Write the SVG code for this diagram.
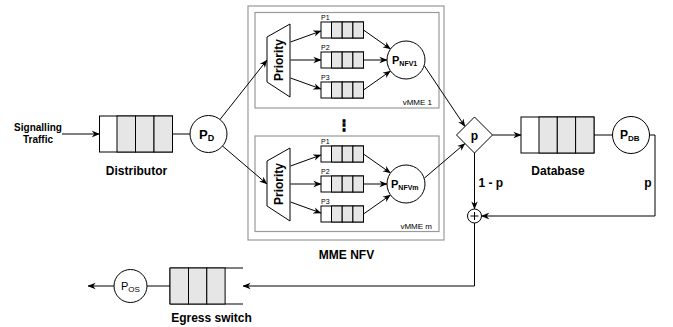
<svg xmlns="http://www.w3.org/2000/svg" width="673" height="327" viewBox="0 0 673 327">
<defs>
<marker id="arr" viewBox="0 0 10 10" refX="9.5" refY="5" markerWidth="8" markerHeight="8" orient="auto" markerUnits="userSpaceOnUse">
<path d="M0,1 L10,5 L0,9 L3,5 z" fill="#000"/>
</marker>
<style>
text{font-family:"Liberation Sans",Arial,sans-serif;fill:#000}
.b{font-weight:bold}
.lbl{font-size:12px;font-weight:bold;text-anchor:middle}
.ln{fill:none;stroke:#000;stroke-width:1}
.ar{fill:none;stroke:#000;stroke-width:1;marker-end:url(#arr)}
.q{fill:#fff;stroke:#000;stroke-width:1}
.g{fill:#e6e6e6;stroke:#000;stroke-width:1}
.c{fill:#fff;stroke:#000;stroke-width:1}
.box{fill:#fff;stroke:#999;stroke-width:1.2}
.small{font-size:7px}
</style>
</defs>
<rect width="673" height="327" fill="#fff"/>

<!-- MME NFV container -->
<g id="mme-nfv">
<rect class="box" x="248" y="6" width="196" height="234" fill="none"/>
<text class="lbl" x="346.5" y="259">MME NFV</text>
<text class="b" x="343.5" y="129" font-size="12" text-anchor="middle" stroke="#000" stroke-width="1.2">⋮</text>
</g>

<g id="vmme1">
<rect class="box" x="255" y="12.5" width="184" height="95.5"/>
<text x="432" y="105" font-size="8" text-anchor="end">vMME 1</text>
</g>
<g id="vmmem">
<rect class="box" x="255" y="136" width="184" height="95.5"/>
<text x="432" y="229" font-size="8" text-anchor="end">vMME m</text>
</g>

<!-- Connectors -->
<g id="connectors">
<line class="ar" x1="62" y1="134" x2="99.5" y2="134"/>
<line class="ln" x1="172.5" y1="134" x2="190" y2="134"/>
<line class="ar" x1="220" y1="119.5" x2="267" y2="60"/>
<line class="ar" x1="222.5" y1="146" x2="267" y2="184"/>
<!-- vMME1 internal -->
<line class="ar" x1="290.5" y1="42" x2="321" y2="31"/>
<line class="ar" x1="290.5" y1="60" x2="321" y2="60"/>
<line class="ar" x1="290.5" y1="78" x2="321" y2="89"/>
<line class="ar" x1="363.5" y1="30" x2="390.5" y2="49"/>
<line class="ar" x1="363.5" y1="60" x2="387" y2="60"/>
<line class="ar" x1="363.5" y1="90" x2="390.5" y2="71"/>
<!-- vMMEm internal -->
<line class="ar" x1="290.5" y1="166" x2="321" y2="155"/>
<line class="ar" x1="290.5" y1="184" x2="321" y2="184"/>
<line class="ar" x1="290.5" y1="202" x2="321" y2="213"/>
<line class="ar" x1="363.5" y1="154" x2="390.5" y2="173"/>
<line class="ar" x1="363.5" y1="184" x2="387" y2="184"/>
<line class="ar" x1="363.5" y1="214" x2="390.5" y2="195"/>
<!-- to diamond -->
<line class="ar" x1="424.5" y1="66" x2="465" y2="126.5"/>
<line class="ar" x1="424.5" y1="178" x2="465" y2="143.5"/>
<line class="ar" x1="492.5" y1="135" x2="521" y2="135"/>
<line class="ln" x1="594" y1="135" x2="612.5" y2="135"/>
<polyline class="ar" points="649.5,135 655,135 655,216 481.5,216"/>
<line class="ar" x1="474.5" y1="153" x2="474.5" y2="209"/>
<polyline class="ar" points="474.5,223 474.5,286 243,286"/>
<line class="ln" x1="147" y1="286" x2="170" y2="286"/>
<line class="ar" x1="114" y1="286" x2="88" y2="286"/>
<text class="b" x="478.5" y="187" font-size="12">1 - p</text>
<text class="b" x="651.5" y="187" font-size="12" text-anchor="end">p</text>
</g>

<!-- Input label -->
<g id="input">
<text class="b" x="38" y="131" font-size="10" text-anchor="middle">Signalling</text>
<text class="b" x="38" y="142.5" font-size="10" text-anchor="middle">Traffic</text>
</g>

<!-- Distributor queue -->
<g id="distributor">
<rect class="q" x="99.5" y="116" width="73" height="36"/>
<rect class="g" x="117" y="116" width="18.5" height="36"/>
<rect class="g" x="135.5" y="116" width="18.5" height="36"/>
<rect class="g" x="154" y="116" width="18.5" height="36"/>
<text class="lbl" x="136.5" y="175">Distributor</text>
</g>
<g id="pd">
<circle class="c" cx="208.5" cy="134" r="18.5"/>
<text class="b" x="199" y="139" font-size="13">P<tspan font-size="9" dy="2">D</tspan></text>
</g>

<!-- vMME 1 contents -->
<g id="priority1">
<polygon class="c" points="267,37 290,24 290,97 267,82"/>
<text class="b" font-size="12" text-anchor="middle" transform="translate(282.5,60) rotate(-90)">Priority</text>
</g>
<g id="q1-p1">
<text class="small" x="321" y="20">P1</text>
<rect class="q" x="321" y="22" width="42.5" height="16"/>
<rect class="g" x="331.5" y="22" width="10.7" height="16"/>
<rect class="g" x="342.2" y="22" width="10.7" height="16"/>
<rect class="g" x="352.9" y="22" width="10.6" height="16"/>
</g>
<g id="q1-p2">
<text class="small" x="321" y="50">P2</text>
<rect class="q" x="321" y="52" width="42.5" height="16"/>
<rect class="g" x="331.5" y="52" width="10.7" height="16"/>
<rect class="g" x="342.2" y="52" width="10.7" height="16"/>
<rect class="g" x="352.9" y="52" width="10.6" height="16"/>
</g>
<g id="q1-p3">
<text class="small" x="321" y="80">P3</text>
<rect class="q" x="321" y="82" width="42.5" height="16"/>
<rect class="g" x="331.5" y="82" width="10.7" height="16"/>
<rect class="g" x="342.2" y="82" width="10.7" height="16"/>
<rect class="g" x="352.9" y="82" width="10.6" height="16"/>
</g>
<g id="pnfv1">
<circle class="c" cx="406" cy="60" r="19"/>
<text class="b" x="392" y="64" font-size="11">P<tspan font-size="7" dy="2">NFV1</tspan></text>
</g>

<!-- vMME m contents -->
<g id="prioritym">
<polygon class="c" points="267,161 290,148 290,221 267,206"/>
<text class="b" font-size="12" text-anchor="middle" transform="translate(282.5,184) rotate(-90)">Priority</text>
</g>
<g id="qm-p1">
<text class="small" x="321" y="144">P1</text>
<rect class="q" x="321" y="146" width="42.5" height="16"/>
<rect class="g" x="331.5" y="146" width="10.7" height="16"/>
<rect class="g" x="342.2" y="146" width="10.7" height="16"/>
<rect class="g" x="352.9" y="146" width="10.6" height="16"/>
</g>
<g id="qm-p2">
<text class="small" x="321" y="174">P2</text>
<rect class="q" x="321" y="176" width="42.5" height="16"/>
<rect class="g" x="331.5" y="176" width="10.7" height="16"/>
<rect class="g" x="342.2" y="176" width="10.7" height="16"/>
<rect class="g" x="352.9" y="176" width="10.6" height="16"/>
</g>
<g id="qm-p3">
<text class="small" x="321" y="204">P3</text>
<rect class="q" x="321" y="206" width="42.5" height="16"/>
<rect class="g" x="331.5" y="206" width="10.7" height="16"/>
<rect class="g" x="342.2" y="206" width="10.7" height="16"/>
<rect class="g" x="352.9" y="206" width="10.6" height="16"/>
</g>
<g id="pnfvm">
<circle class="c" cx="406" cy="184" r="19"/>
<text class="b" x="391" y="188" font-size="11">P<tspan font-size="7" dy="2">NFVm</tspan></text>
</g>

<!-- Decision -->
<g id="decision">
<polygon class="c" points="456.5,135 474.5,117 492.5,135 474.5,153"/>
<text class="lbl" x="474.5" y="139.5">p</text>
</g>

<!-- Database -->
<g id="database">
<rect class="q" x="521" y="117" width="73" height="36"/>
<rect class="g" x="539" y="117" width="18.3" height="36"/>
<rect class="g" x="557.3" y="117" width="18.3" height="36"/>
<rect class="g" x="575.6" y="117" width="18.4" height="36"/>
<text class="lbl" x="558" y="175">Database</text>
</g>
<g id="pdb">
<circle class="c" cx="631" cy="135" r="18.5"/>
<text class="b" x="620" y="139" font-size="12">P<tspan font-size="8" dy="2">DB</tspan></text>
</g>

<!-- Sum -->
<g id="sum">
<circle class="c" cx="474.5" cy="216" r="7"/>
<line class="ln" x1="470.5" y1="216" x2="478.5" y2="216" stroke-width="1.6"/>
<line class="ln" x1="474.5" y1="212" x2="474.5" y2="220" stroke-width="1.6"/>
</g>

<!-- Egress -->
<g id="egress">
<rect x="170" y="268" width="73" height="36" fill="#fff" stroke="none"/>
<polyline class="ln" points="243,268 170,268 170,304 243,304"/>
<rect class="g" x="170" y="268" width="18.5" height="36"/>
<rect class="g" x="188.5" y="268" width="18.3" height="36"/>
<rect class="g" x="206.8" y="268" width="18.3" height="36"/>
<text class="lbl" x="211.5" y="321.5">Egress switch</text>
</g>
<g id="pos">
<circle class="c" cx="130.5" cy="286" r="16.5"/>
<text x="121" y="290" font-size="11">P<tspan font-size="8" dy="2">OS</tspan></text>
</g>
</svg>
